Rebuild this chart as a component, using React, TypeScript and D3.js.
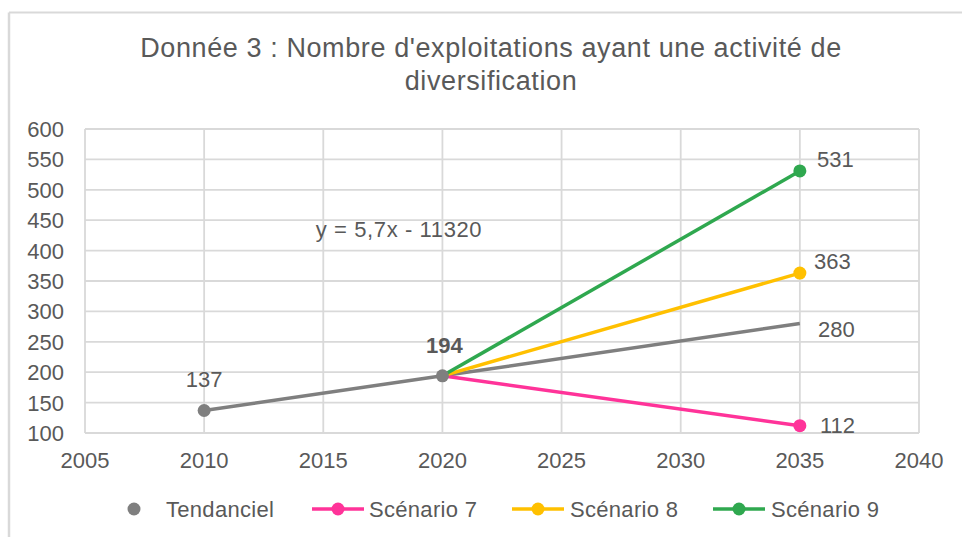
import React from "react";
import * as d3 from "d3";

const titleLines = ["Donnée 3 : Nombre d'exploitations ayant une activité de", "diversification"];
const xTicks = [2005, 2010, 2015, 2020, 2025, 2030, 2035, 2040];
const yTicks = [100, 150, 200, 250, 300, 350, 400, 450, 500, 550, 600];

const tendancielYears = [2010, 2020];
const tendancielValues = [137, 194];
const trendYears = [2010, 2020, 2035];
const trendValues = [137, 194, 280];

const scenarioNames = ["Scénario 7", "Scénario 8", "Scénario 9"];
const scenarioColors = ["#FF3399", "#FFC000", "#2FA84F"];
const scenarioYears = [2020, 2035];
const scenario7 = [194, 112];
const scenario8 = [194, 363];
const scenario9 = [194, 531];
const scenarioValues = [scenario7, scenario8, scenario9];

const equation = "y = 5,7x - 11320";
const GRAY = "#7F7F7F";
const TEXT = "#595959";
const FONT = "'Liberation Sans', Arial, sans-serif";

export default function App() {
  const W = 962, H = 537;
  const x = d3.scaleLinear().domain([2005, 2040]).range([85, 919]);
  const y = d3.scaleLinear().domain([100, 600]).range([433, 129]);
  const line = d3.line<[number, number]>().x(d => x(d[0])).y(d => y(d[1]));

  const trendPts: [number, number][] = trendYears.map((t, i) => [t, trendValues[i]]);

  const legendItems = [
    { name: "Tendanciel", color: GRAY, type: "dot", lx: 134, tx: 166 },
    { name: scenarioNames[0], color: scenarioColors[0], type: "line", lx: 338, tx: 369 },
    { name: scenarioNames[1], color: scenarioColors[1], type: "line", lx: 538, tx: 570 },
    { name: scenarioNames[2], color: scenarioColors[2], type: "line", lx: 739, tx: 771 },
  ];

  return (
    <svg width={W} height={H} style={{ position: "absolute", left: 0, top: 0, background: "#fff" }} fontFamily={FONT}>
      <rect x={0} y={0} width={W} height={H} fill="#fff" />
      {/* chart border */}
      <line x1={9} y1={12.5} x2={W} y2={12.5} stroke="#D9D9D9" strokeWidth={2} />
      <line x1={9} y1={12.5} x2={9} y2={H} stroke="#D9D9D9" strokeWidth={2.5} />

      {/* title */}
      {titleLines.map((t, i) => (
        <text key={i} x={491} y={57 + i * 33} textAnchor="middle" fontSize={27} letterSpacing={0.6} fill={TEXT}>{t}</text>
      ))}

      {/* gridlines */}
      {yTicks.map(v => (
        <line key={"gy" + v} x1={x(2005)} x2={x(2040)} y1={y(v)} y2={y(v)} stroke="#D9D9D9" strokeWidth={1.8} />
      ))}
      {xTicks.map(v => (
        <line key={"gx" + v} x1={x(v)} x2={x(v)} y1={y(600)} y2={y(100)} stroke="#D9D9D9" strokeWidth={1.8} />
      ))}

      {/* axis labels */}
      {yTicks.map(v => (
        <text key={"ty" + v} x={64} y={y(v) + 8} textAnchor="end" fontSize={22} fill={TEXT}>{v}</text>
      ))}
      {xTicks.map(v => (
        <text key={"tx" + v} x={x(v)} y={468} textAnchor="middle" fontSize={22} fill={TEXT}>{v}</text>
      ))}

      {/* trend line */}
      <path d={line(trendPts) || ""} fill="none" stroke={GRAY} strokeWidth={3.5} />

      {/* scenarios */}
      {scenarioValues.map((vals, si) => {
        const pts: [number, number][] = scenarioYears.map((t, i) => [t, vals[i]]);
        return (
          <g key={"s" + si}>
            <path d={line(pts) || ""} fill="none" stroke={scenarioColors[si]} strokeWidth={3.5} />
            <circle cx={x(scenarioYears[1])} cy={y(vals[1])} r={6.5} fill={scenarioColors[si]} />
          </g>
        );
      })}

      {/* tendanciel markers */}
      {tendancielYears.map((t, i) => (
        <circle key={"td" + i} cx={x(t)} cy={y(tendancielValues[i])} r={6.5} fill={GRAY} />
      ))}

      {/* data labels */}
      <text x={x(2010)} y={387} textAnchor="middle" fontSize={22} fill={TEXT}>{tendancielValues[0]}</text>
      <text x={x(2020) + 2} y={353} textAnchor="middle" fontSize={22} fontWeight="bold" fill={TEXT}>{tendancielValues[1]}</text>
      <text x={817} y={167} fontSize={22} fill={TEXT}>{scenario9[1]}</text>
      <text x={814} y={269} fontSize={22} fill={TEXT}>{scenario8[1]}</text>
      <text x={818} y={337} fontSize={22} fill={TEXT}>{trendValues[2]}</text>
      <text x={820} y={433} fontSize={22} fill={TEXT}>{scenario7[1]}</text>

      {/* equation */}
      <text x={399} y={237} textAnchor="middle" fontSize={22} letterSpacing={0.6} fill={TEXT}>{equation}</text>

      {/* legend */}
      {legendItems.map((it, i) => (
        <g key={"lg" + i}>
          {it.type === "line" && (
            <line x1={it.lx - 26} x2={it.lx + 26} y1={509} y2={509} stroke={it.color} strokeWidth={3.5} />
          )}
          <circle cx={it.lx} cy={509} r={6.5} fill={it.color} />
          <text x={it.tx} y={517} fontSize={22} letterSpacing={0.3} fill={TEXT}>{it.name}</text>
        </g>
      ))}
    </svg>
  );
}
